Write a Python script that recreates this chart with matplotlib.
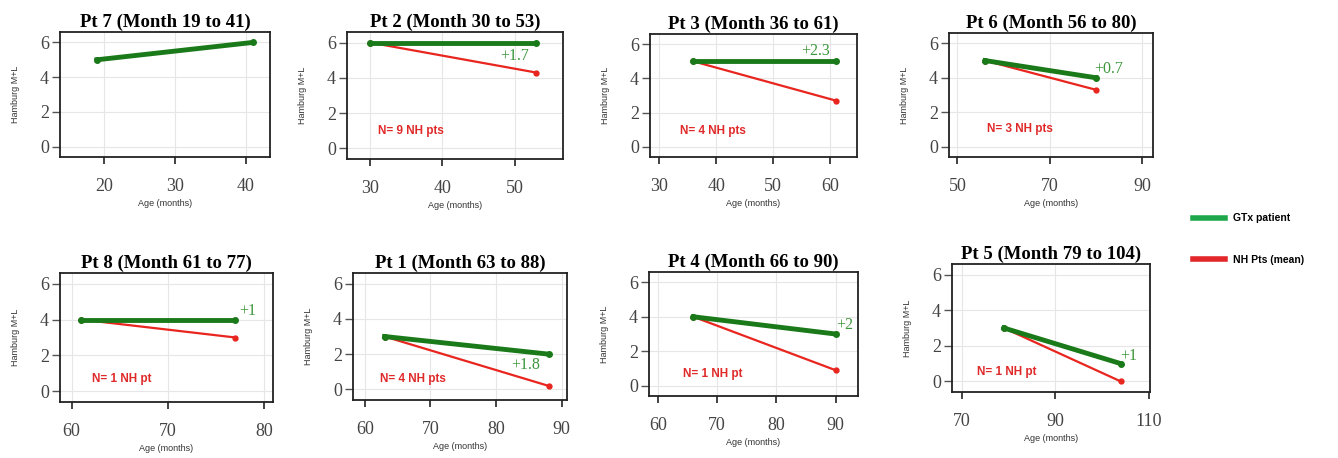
import numpy as np
import matplotlib
matplotlib.use("Agg")
import matplotlib.pyplot as plt
from matplotlib.lines import Line2D

# panel data
titles = ["Pt 7 (Month 19 to 41)", "Pt 2 (Month 30 to 53)", "Pt 3 (Month 36 to 61)",
          "Pt 6 (Month 56 to 80)", "Pt 8 (Month 61 to 77)", "Pt 1 (Month 63 to 88)",
          "Pt 4 (Month 66 to 90)", "Pt 5 (Month 79 to 104)"]
ages = [[19, 41], [30, 53], [36, 61], [56, 80], [61, 77], [63, 88], [66, 90], [79, 104]]
gtx_scores = [[5, 6], [6, 6], [5, 5], [5, 4], [4, 4], [3, 2], [4, 3], [3, 1]]
nh_scores = [None, [6, 4.3], [5, 2.7], [5, 3.3], [4, 3], [3, 0.2], [4, 0.9], [3, 0]]
diff_labels = [None, "+1.7", "+2.3", "+0.7", "+1", "+1.8", "+2", "+1"]
diff_pos = [None, (50, 5.25), (57.4, 5.6), (82.8, 4.5), (78.3, 4.5), (84.5, 1.4), (91.6, 3.5), (105.8, 1.45)]
n_labels = [None, "N= 9 NH pts", "N= 4 NH pts", "N= 3 NH pts", "N= 1 NH pt",
            "N= 4 NH pts", "N= 1 NH pt", "N= 1 NH pt"]
n_pos = [None, (31.1, 1.0), (33.6, 0.95), (56.4, 1.0), (62.1, 0.7), (62.3, 0.6), (64.2, 0.65), (73.2, 0.55)]
xticks = [[20, 30, 40], [30, 40, 50], [30, 40, 50, 60], [50, 70, 90],
          [60, 70, 80], [60, 70, 80, 90], [60, 70, 80, 90], [70, 90, 110]]
xlims = [(13.8, 43.4), (26.8, 56.7), (28.4, 64.7), (48.2, 92.3),
         (58.8, 80.9), (58.2, 90.8), (58.5, 93.8), (67.9, 110.3)]

# axes boxes in pixels: left, top, right, bottom
boxes = [(60, 32, 270, 157), (347, 32, 563, 159), (650, 34, 857, 157), (949, 33, 1153, 157),
         (60, 273, 273, 402), (353, 273, 567, 400), (649, 272, 858, 396), (952, 264, 1150, 392)]

W, H = 1338, 458
GREEN = "#1a7a1a"
RED = "#e8251e"
serif = "Liberation Serif"
sans = "Liberation Sans"

fig = plt.figure(figsize=(W / 100, H / 100), dpi=100)

for i in range(8):
    l, t, r, b = boxes[i]
    ax = fig.add_axes([l / W, (H - b) / H, (r - l) / W, (b - t) / H])
    if nh_scores[i] is not None:
        ax.plot(ages[i], nh_scores[i], color=RED, lw=1.6, marker="o", ms=3.5, zorder=3)
    ax.plot(ages[i], gtx_scores[i], color=GREEN, lw=3.5, marker="o", ms=4, zorder=4)
    if diff_labels[i] is not None:
        ax.text(diff_pos[i][0], diff_pos[i][1], diff_labels[i], color="#3b973b",
                fontfamily=serif, fontsize=11.5, ha="center", va="center")
        ax.text(n_pos[i][0], n_pos[i][1], n_labels[i], color="#e02a2a",
                fontfamily=sans, fontweight="bold", fontsize=8.5, ha="left", va="center")
    ax.set_xlim(*xlims[i])
    ax.set_ylim(-0.6, 6.6)
    ax.set_xticks(xticks[i])
    ax.set_yticks([0, 2, 4, 6])
    ax.grid(True, color="#e6e6e6", lw=0.8)
    ax.set_axisbelow(True)
    for sp in ax.spines.values():
        sp.set_linewidth(1.3)
        sp.set_color("#222222")
    ax.tick_params(axis="x", length=5, width=1.2, pad=10, labelsize=13, colors="#222222", labelcolor="#444444")
    ax.tick_params(axis="y", length=6, width=1.0, pad=2, labelsize=13, colors="#555555", labelcolor="#444444")
    for lab in ax.get_xticklabels() + ax.get_yticklabels():
        lab.set_fontfamily(serif)
    ax.set_title(titles[i], fontfamily=serif, fontweight="bold", fontsize=13.5, pad=4)
    ax.set_ylabel("Hamburg M+L", fontfamily=sans, fontsize=6.5, color="#333333")
    ax.set_xlabel("Age (months)", fontfamily=sans, fontsize=6.5, color="#333333")
    ax.yaxis.set_label_coords(-40 / (r - l), 0.5)
    ax.xaxis.set_label_coords(0.5, -42 / (b - t))

handles = [Line2D([], [], color="#1fa84a", lw=4), Line2D([], [], color="#e3262a", lw=4)]
fig.legend(handles, ["GTx patient", "NH Pts (mean)"], loc="upper left",
           bbox_to_anchor=(1184 / W, 1 - 204 / H), frameon=False, handlelength=3.0,
           labelspacing=3.0, prop={"family": sans, "weight": "bold", "size": 7.5})

fig.savefig("out.png", dpi=100)
